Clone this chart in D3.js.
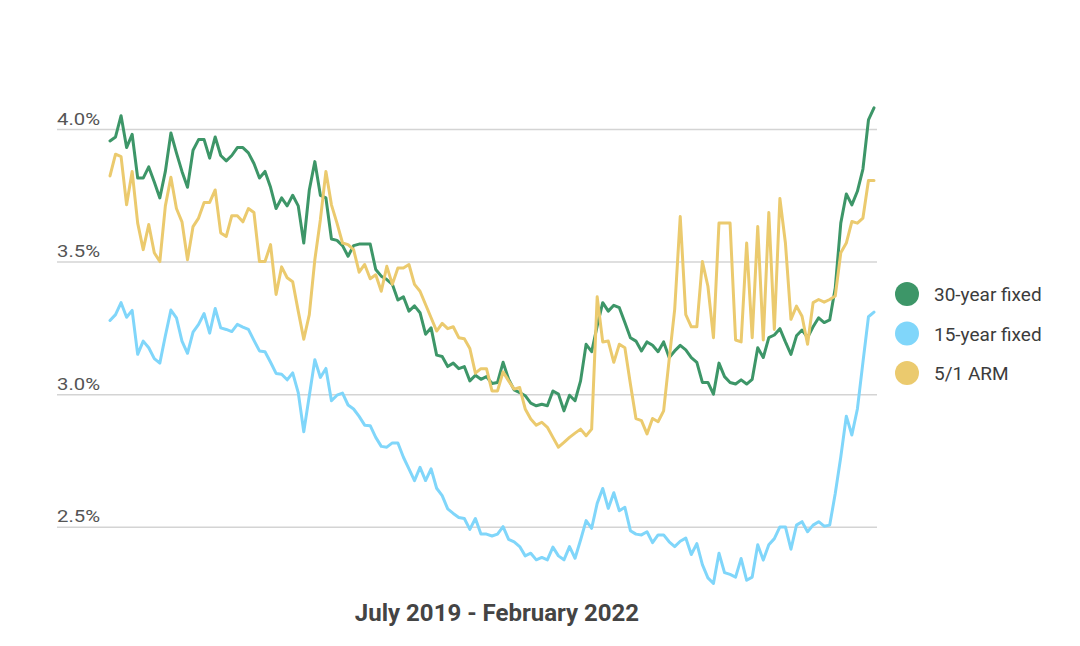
<!DOCTYPE html>
<html>
<head>
<meta charset="utf-8">
<script src="https://cdn.jsdelivr.net/npm/d3@7"></script>
<style>
  html, body { margin: 0; padding: 0; background: #fff; }
  svg { display: block; font-family: Roboto, "Noto Sans", sans-serif; }
</style>
</head>
<body>
<svg id="chart" width="1080" height="646"></svg>
<script>
// ---- Data (weekly, July 2019 - February 2022) ----
const seriesNames = ["30-year fixed", "15-year fixed", "5/1 ARM"];
const seriesColors = ["#3d9668", "#80d6fa", "#ebca6e"];
const yTicks = [2.5, 3.0, 3.5, 4.0];
const title = "July 2019 - February 2022";

const fixed30 = [
3.955,3.97,4.05,3.93,3.98,3.815,3.815,3.857,3.80,3.74,
3.84,3.985,3.91,3.84,3.78,3.92,3.96,3.96,3.89,3.97,
3.90,3.88,3.90,3.93,3.93,3.91,3.87,3.815,3.84,3.78,
3.70,3.74,3.71,3.75,3.71,3.57,3.77,3.877,3.75,3.74,
3.585,3.58,3.56,3.52,3.56,3.566,3.566,3.566,3.47,3.445,
3.432,3.414,3.355,3.367,3.313,3.333,3.307,3.226,3.25,3.147,
3.142,3.104,3.117,3.096,3.104,3.05,3.071,3.056,3.066,3.04,
3.044,3.12,3.056,3.016,3.006,2.994,2.966,2.956,2.962,2.956,
3.012,3.0,2.937,2.996,2.975,3.05,3.188,3.16,3.257,3.345,
3.313,3.335,3.326,3.27,3.213,3.20,3.163,3.197,3.184,3.16,
3.197,3.138,3.163,3.184,3.167,3.138,3.12,3.044,3.044,3.0,
3.117,3.066,3.044,3.038,3.054,3.038,3.056,3.175,3.138,3.213,
3.223,3.247,3.197,3.15,3.22,3.242,3.213,3.254,3.288,3.27,
3.28,3.40,3.645,3.755,3.714,3.765,3.849,4.034,4.08];

const fixed15 = [
3.278,3.30,3.345,3.29,3.316,3.15,3.20,3.175,3.134,3.117,
3.22,3.317,3.288,3.20,3.154,3.234,3.263,3.304,3.23,3.323,
3.25,3.244,3.236,3.263,3.253,3.244,3.203,3.163,3.16,3.12,
3.078,3.075,3.054,3.08,3.006,2.858,2.994,3.13,3.063,3.097,
2.975,2.996,3.004,2.959,2.944,2.916,2.883,2.881,2.837,2.803,
2.80,2.816,2.816,2.762,2.718,2.674,2.724,2.674,2.718,2.645,
2.617,2.567,2.55,2.535,2.531,2.49,2.531,2.472,2.472,2.465,
2.472,2.50,2.452,2.443,2.425,2.39,2.40,2.375,2.384,2.375,
2.423,2.39,2.375,2.425,2.381,2.45,2.523,2.494,2.588,2.644,
2.569,2.628,2.56,2.573,2.485,2.472,2.469,2.481,2.44,2.469,
2.469,2.443,2.425,2.445,2.457,2.395,2.436,2.357,2.307,2.286,
2.40,2.327,2.32,2.31,2.38,2.298,2.31,2.432,2.374,2.432,
2.455,2.499,2.499,2.415,2.506,2.519,2.481,2.506,2.519,2.502,
2.506,2.625,2.763,2.917,2.846,2.944,3.12,3.292,3.309];

const arm51 = [
3.823,3.905,3.896,3.714,3.84,3.645,3.545,3.64,3.533,3.50,
3.71,3.818,3.70,3.65,3.507,3.632,3.664,3.723,3.723,3.77,
3.608,3.595,3.673,3.673,3.65,3.70,3.685,3.50,3.50,3.564,
3.376,3.48,3.439,3.424,3.313,3.207,3.30,3.507,3.658,3.84,
3.714,3.645,3.57,3.564,3.545,3.46,3.489,3.435,3.45,3.388,
3.482,3.414,3.476,3.476,3.489,3.414,3.388,3.338,3.288,3.238,
3.267,3.247,3.254,3.213,3.209,3.172,3.079,3.096,3.096,3.012,
3.012,3.084,3.05,3.019,3.025,2.944,2.906,2.883,2.894,2.875,
2.837,2.80,2.818,2.837,2.853,2.868,2.843,2.868,3.367,3.197,
3.20,3.12,3.188,3.175,3.038,2.908,2.90,2.85,2.908,2.896,
2.937,3.13,3.32,3.67,3.30,3.254,3.254,3.50,3.407,3.213,
3.645,3.645,3.645,3.204,3.197,3.57,3.213,3.632,3.204,3.685,
3.244,3.738,3.57,3.282,3.332,3.294,3.188,3.345,3.357,3.347,
3.357,3.37,3.533,3.57,3.651,3.645,3.664,3.806,3.806];

// week index categories
const weeks = d3.range(fixed30.length);

// ---- Drawing ----
const svg = d3.select("#chart");
const plotLeft = 110, plotRight = 874;
const gridLeft = 57, gridRight = 877;

const x = d3.scaleLinear().domain([0, weeks.length - 1]).range([plotLeft, plotRight]);
const y = d3.scaleLinear().domain([2.5, 4.0]).range([526.7, 129]);

// Gridlines + labels via axis
const yAxis = d3.axisLeft(y)
  .tickValues(yTicks)
  .tickSize(-(gridRight - gridLeft))
  .tickFormat(d => d.toFixed(1) + "%");

const gAxis = svg.append("g")
  .attr("transform", `translate(${gridLeft},0)`)
  .call(yAxis);
gAxis.select(".domain").remove();
gAxis.selectAll(".tick line")
  .attr("stroke", "#d4d4d4")
  .attr("stroke-width", 1.5);
gAxis.selectAll(".tick text")
  .attr("x", 0)
  .attr("dy", "-5")
  .attr("text-anchor", "start")
  .attr("fill", "#555")
  .attr("textLength", 43)
  .attr("lengthAdjust", "spacingAndGlyphs")
  .style("font-size", "17px")
  .style("font-family", "Roboto, sans-serif");

// Lines
const allSeries = [fixed30, fixed15, arm51];
const line = d3.line()
  .x((d, i) => x(weeks[i]))
  .y(d => y(d))
  .curve(d3.curveLinear);

// draw order: blue, green, then yellow on top
[1, 0, 2].forEach(k => {
  svg.append("path")
    .datum(allSeries[k])
    .attr("fill", "none")
    .attr("stroke", seriesColors[k])
    .attr("stroke-width", 3)
    .attr("stroke-linejoin", "round")
    .attr("stroke-linecap", "round")
    .attr("d", line);
});

// Legend
const legend = svg.append("g").attr("transform", "translate(907,294)");
seriesNames.forEach((name, i) => {
  const g = legend.append("g").attr("transform", `translate(0,${i * 39.5})`);
  g.append("circle").attr("r", 12).attr("fill", seriesColors[i]);
  g.append("text")
    .attr("x", 27)
    .attr("y", 7)
    .attr("fill", "#3c3c3c")
    .style("font-size", "19px")
    .style("font-family", "Roboto, sans-serif")
    .text(name);
});

// Title
svg.append("text")
  .attr("x", 497)
  .attr("y", 621)
  .attr("text-anchor", "middle")
  .attr("fill", "#444")
  .style("font-size", "24px")
  .style("font-weight", "bold")
  .style("font-family", "Roboto, sans-serif")
  .text(title);
</script>
</body>
</html>
